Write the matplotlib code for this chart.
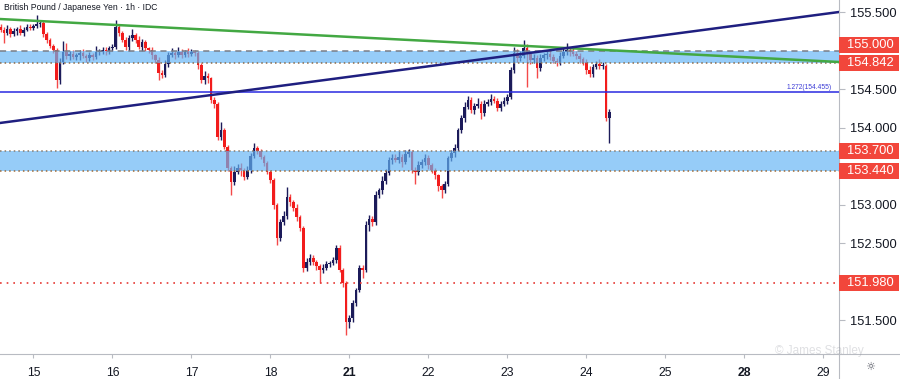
import matplotlib.pyplot as plt
from matplotlib.patches import Rectangle
from matplotlib.lines import Line2D
from matplotlib.transforms import blended_transform_factory

plt.rcParams['font.family'] = ['Liberation Sans', 'DejaVu Sans']

# hourly GBP/JPY closes per session, plus wick lengths above / below the body
close_14 = [155.27, 155.23, 155.28, 155.21, 155.25, 155.28, 155.23, 155.27, 155.31, 155.29]
up_14 = [0.04, 0.03, 0.05, 0.02, 0.04, 0.03, 0.05, 0.03, 0.04, 0.03]
lo_14 = [0.03, 0.13, 0.03, 0.04, 0.02, 0.05, 0.03, 0.04, 0.02, 0.03]

close_15 = [155.32, 155.34, 155.36, 155.21, 155.14, 155.06, 155.01, 154.62, 154.85, 154.98, 154.93, 154.96,
            154.92, 154.94, 154.97, 154.93, 154.90, 154.94, 154.92, 154.98, 154.98, 155.01, 154.99, 155.03]
up_15 = [0.03, 0.12, 0.03, 0.02, 0.03, 0.02, 0.02, 0.02, 0.05, 0.15, 0.12, 0.04,
         0.05, 0.03, 0.04, 0.05, 0.03, 0.04, 0.03, 0.08, 0.04, 0.03, 0.04, 0.03]
lo_15 = [0.02, 0.03, 0.04, 0.03, 0.04, 0.03, 0.04, 0.11, 0.05, 0.03, 0.04, 0.05,
         0.03, 0.04, 0.06, 0.03, 0.05, 0.03, 0.04, 0.03, 0.04, 0.03, 0.05, 0.03]

close_16 = [155.05, 155.31, 155.23, 155.14, 155.05, 155.16, 155.20, 155.14, 155.05, 155.11, 155.03, 155.01,
            154.94, 154.88, 154.71, 154.68, 154.83, 154.94, 154.97, 154.94, 154.98, 154.94, 154.98, 154.96]
up_16 = [0.03, 0.08, 0.03, 0.02, 0.03, 0.04, 0.08, 0.03, 0.05, 0.04, 0.03, 0.02,
         0.03, 0.02, 0.03, 0.04, 0.05, 0.04, 0.06, 0.03, 0.07, 0.04, 0.03, 0.05]
lo_16 = [0.03, 0.03, 0.04, 0.03, 0.04, 0.05, 0.03, 0.04, 0.03, 0.05, 0.03, 0.04,
         0.05, 0.04, 0.09, 0.04, 0.03, 0.04, 0.03, 0.05, 0.03, 0.04, 0.03, 0.04]

close_17 = [154.98, 154.97, 154.81, 154.62, 154.67, 154.64, 154.36, 154.31, 153.88, 153.97, 153.75, 153.47,
            153.29, 153.42, 153.47, 153.45, 153.36, 153.45, 153.63, 153.73, 153.70, 153.62, 153.54, 153.42]
up_17 = [0.04, 0.03, 0.02, 0.03, 0.06, 0.04, 0.02, 0.03, 0.02, 0.10, 0.03, 0.02,
         0.03, 0.08, 0.06, 0.07, 0.03, 0.05, 0.04, 0.07, 0.03, 0.02, 0.02, 0.03]
lo_17 = [0.03, 0.04, 0.05, 0.04, 0.05, 0.06, 0.04, 0.05, 0.04, 0.04, 0.03, 0.04,
         0.17, 0.04, 0.03, 0.08, 0.04, 0.03, 0.04, 0.03, 0.04, 0.03, 0.04, 0.03]

close_18 = [153.32, 152.99, 152.57, 152.77, 152.85, 153.10, 153.03, 152.96, 152.84, 152.70, 152.18, 152.25,
            152.31, 152.25, 152.20, 152.15, 152.18, 152.23, 152.24, 152.28, 152.44, 152.15, 151.98, 151.47]
up_18 = [0.03, 0.02, 0.03, 0.04, 0.06, 0.13, 0.04, 0.03, 0.05, 0.03, 0.02, 0.06,
         0.05, 0.04, 0.03, 0.03, 0.05, 0.04, 0.03, 0.04, 0.03, 0.03, 0.02, 0.03]
lo_18 = [0.04, 0.05, 0.10, 0.04, 0.03, 0.04, 0.05, 0.04, 0.05, 0.04, 0.06, 0.04,
         0.03, 0.04, 0.05, 0.17, 0.04, 0.03, 0.04, 0.03, 0.04, 0.03, 0.05, 0.16]

close_21 = [151.53, 151.72, 151.89, 152.18, 152.15, 152.73, 152.81, 152.77, 153.12, 153.19, 153.31, 153.41,
            153.58, 153.60, 153.58, 153.62, 153.55, 153.66, 153.68, 153.45, 153.42, 153.51, 153.55, 153.60]
up_21 = [0.03, 0.04, 0.03, 0.04, 0.03, 0.05, 0.06, 0.04, 0.05, 0.03, 0.06, 0.05,
         0.04, 0.06, 0.05, 0.08, 0.04, 0.05, 0.04, 0.03, 0.04, 0.05, 0.04, 0.05]
lo_21 = [0.07, 0.05, 0.04, 0.03, 0.10, 0.03, 0.08, 0.05, 0.04, 0.03, 0.05, 0.04,
         0.03, 0.06, 0.03, 0.04, 0.06, 0.03, 0.04, 0.04, 0.15, 0.04, 0.03, 0.04]

close_22 = [153.51, 153.45, 153.38, 153.24, 153.19, 153.27, 153.60, 153.67, 153.73, 153.97, 154.12, 154.27,
            154.36, 154.23, 154.28, 154.31, 154.19, 154.31, 154.33, 154.37, 154.35, 154.26, 154.31, 154.35]
up_22 = [0.04, 0.03, 0.03, 0.02, 0.03, 0.04, 0.03, 0.04, 0.05, 0.03, 0.04, 0.06,
         0.05, 0.03, 0.04, 0.07, 0.03, 0.05, 0.04, 0.06, 0.04, 0.03, 0.04, 0.05]
lo_22 = [0.05, 0.04, 0.05, 0.06, 0.10, 0.04, 0.03, 0.04, 0.05, 0.03, 0.04, 0.05,
         0.03, 0.04, 0.05, 0.03, 0.08, 0.04, 0.03, 0.04, 0.03, 0.05, 0.04, 0.03]

close_23 = [154.40, 154.75, 154.97, 154.90, 154.93, 155.03, 154.96, 154.88, 154.90, 154.77, 154.90, 154.94,
            154.96, 154.92, 154.87, 154.85, 154.93, 154.98, 155.01, 154.98, 154.96, 154.93, 154.89, 154.85]
up_23 = [0.03, 0.04, 0.08, 0.05, 0.06, 0.11, 0.05, 0.03, 0.06, 0.04, 0.05, 0.03,
         0.04, 0.05, 0.04, 0.03, 0.05, 0.06, 0.09, 0.04, 0.05, 0.03, 0.04, 0.03]
lo_23 = [0.04, 0.03, 0.04, 0.05, 0.04, 0.03, 0.43, 0.05, 0.04, 0.13, 0.04, 0.03,
         0.05, 0.04, 0.03, 0.05, 0.04, 0.03, 0.04, 0.05, 0.03, 0.04, 0.05, 0.04]

close_24 = [154.75, 154.70, 154.79, 154.83, 154.80, 154.80, 154.12, 154.20]
up_24 = [0.04, 0.05, 0.03, 0.04, 0.06, 0.05, 0.03, 0.04]
lo_24 = [0.05, 0.04, 0.05, 0.03, 0.04, 0.04, 0.04, 0.32]

first_open = 155.30

# support / resistance
zone_hi = [155.000, 153.700]
zone_lo = [154.842, 153.440]
support = 151.980
fib_level = 154.455
fib_text = '1.272(154.455)'
green_line = ([-10.2, 244.8], [155.409, 154.851])
navy_line = ([-10.2, 244.8], [154.059, 155.500])

day_ticks = [0, 24, 48, 72, 96, 120, 144, 168, 192, 216, 240]
day_labels = ['15', '16', '17', '18', '21', '22', '23', '24', '25', '28', '29']
bold_days = ['21', '28']
price_ticks = [151.5, 152.5, 153.0, 154.0, 154.5, 155.5]
badges = [155.000, 154.842, 153.700, 153.440, 151.980]

closes = close_14 + close_15 + close_16 + close_17 + close_18 + close_21 + close_22 + close_23 + close_24
ups = up_14 + up_15 + up_16 + up_17 + up_18 + up_21 + up_22 + up_23 + up_24
los = lo_14 + lo_15 + lo_16 + lo_17 + lo_18 + lo_21 + lo_22 + lo_23 + lo_24
opens = [first_open] + closes[:-1]
hours = list(range(-len(close_14), len(closes) - len(close_14)))

UP = '#1c1b5a'
DOWN = '#f21c1c'

fig = plt.figure(figsize=(9, 3.79), dpi=100)
ax = fig.add_axes([0, 25 / 379, 839 / 900, 354 / 379])
ax.set_xlim(-10.18, 244.8)
ax.set_ylim(151.059, 155.656)

for h, o, c, u, l in zip(hours, opens, closes, ups, los):
    col = UP if c >= o else DOWN
    top, bot = max(o, c), min(o, c)
    ax.vlines(h, bot - l, top + u, color=col, lw=1.0, alpha=0.8 if col == DOWN else 1, zorder=2)
    ax.bar(h, max(top - bot, 0.01), bottom=bot, width=0.8, color=col, lw=0, zorder=2)

# zones drawn over the candles
for hi, lo in zip(zone_hi, zone_lo):
    ax.axhspan(lo, hi, color='#64b4f5', alpha=0.68, lw=0, zorder=3)
ax.axhline(zone_hi[0], color='#7a7d86', lw=1.1, ls=(0, (4, 3)), zorder=4)
ax.axhline(zone_lo[0], color='#8a6a4a', lw=1.1, ls=(0, (1, 2)), zorder=4)
ax.axhline(zone_hi[1], color='#8a7a6a', lw=1.1, ls=(0, (1, 2)), zorder=4)
ax.axhline(zone_lo[1], color='#9a6a3a', lw=1.1, ls=(0, (1, 2)), zorder=4)
ax.axhline(support, color='#e53935', lw=1.2, ls=(0, (1, 3)), zorder=4)

ax.axhline(fib_level, color='#2a2ae0', lw=1.1, zorder=4)
ax.text(242.6, fib_level + 0.02, fib_text, color='#3b3bd6', fontsize=4.8, ha='right', va='bottom', zorder=5)

ax.plot(*green_line, color='#43a843', lw=1.8, zorder=5)
ax.plot(*navy_line, color='#1f1f80', lw=1.8, zorder=5)

# axes styling
for s in ['top', 'left']:
    ax.spines[s].set_visible(False)
for s in ['right', 'bottom']:
    ax.spines[s].set_color('#b8bbc2')
ax.yaxis.tick_right()
ax.set_yticks(price_ticks)
ax.set_yticklabels(['%.3f' % p for p in price_ticks])
ax.tick_params(axis='y', length=4, color='#b8bbc2', labelsize=9.3, labelcolor='#131722', pad=4)
ax.set_xticks(day_ticks)
ax.set_xticklabels(day_labels)
ax.tick_params(axis='x', length=3, color='#b8bbc2', labelsize=8.8, labelcolor='#131722', pad=6)
for t in ax.get_xticklabels():
    if t.get_text() in bold_days:
        t.set_fontweight('bold')

# red price badges on the scale
tr = blended_transform_factory(ax.transAxes, ax.transData)
px = 0.012987
shift = {155.000: 6 * px}
for b in badges:
    yc = b + shift.get(b, 0)
    ax.add_patch(Rectangle((1.0, yc - 8 * px), 60 / 839, 16 * px, transform=tr,
                           facecolor='#f2463b', edgecolor='none', clip_on=False, zorder=6))
    ax.text(1.0 + 8 / 839, yc, '%.3f' % b, transform=tr, color='white', fontsize=9.3,
            va='center', ha='left', zorder=7, clip_on=False)

fig.add_artist(Line2D([839 / 900, 1], [25 / 379, 25 / 379], color='#b8bbc2', lw=0.8))
fig.add_artist(Line2D([838.5 / 900, 838.5 / 900], [0, 25 / 379], color='#b8bbc2', lw=0.8))

fig.text(4 / 900, 1 - 8 / 379, 'British Pound / Japanese Yen · 1h · IDC', fontsize=6.2,
         color='#131722', va='center', ha='left')
fig.text(775 / 900, 1 - 351 / 379, '\u00a9 James Stanley', fontsize=8.5, color='#9598a1',
         alpha=0.3, va='center', ha='left')
fig.text(870 / 900, 1 - 367 / 379, '\u263c', fontsize=8, color='#50535e', va='center', ha='center',
         family='DejaVu Sans')

fig.savefig('out.png', dpi=100)
